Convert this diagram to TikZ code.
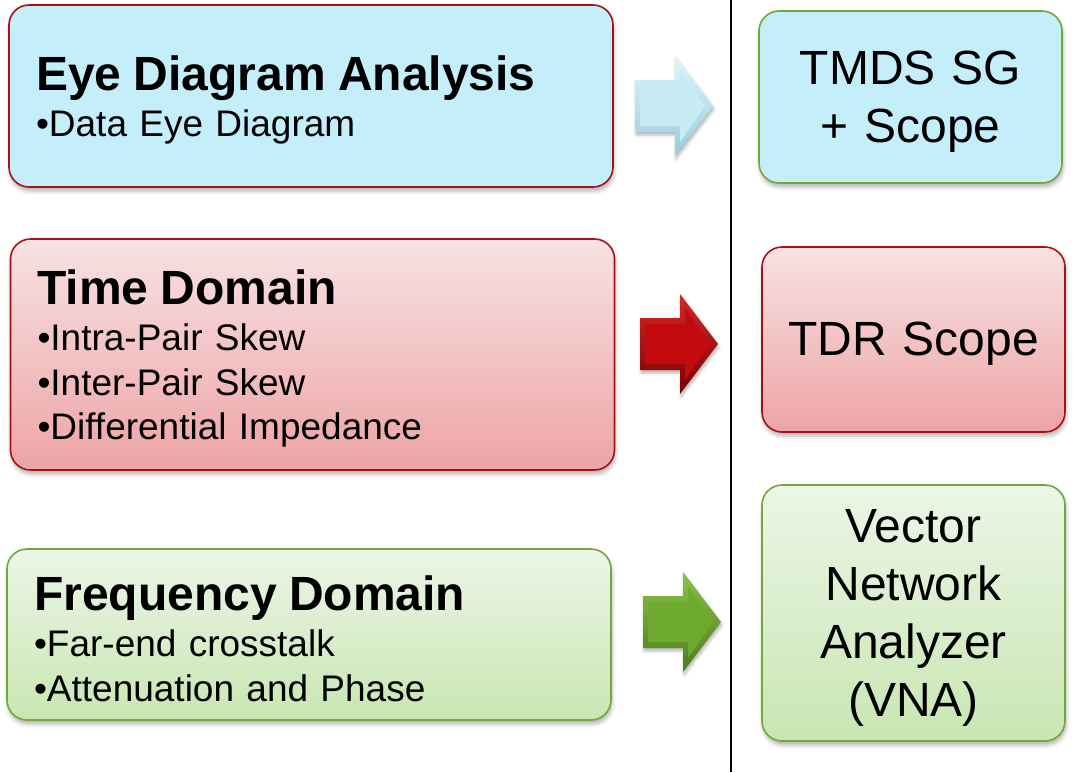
\documentclass[tikz,border=0pt]{standalone}
\usepackage{fontspec}
\setmainfont{Liberation Sans}
\usetikzlibrary{shadows.blur}

\definecolor{eyeblue}{RGB}{197,238,251}
\definecolor{pinktop}{RGB}{248,226,227}
\definecolor{pinkbot}{RGB}{237,164,165}
\definecolor{greentop}{RGB}{236,246,231}
\definecolor{greenbot}{RGB}{200,230,178}
\definecolor{redline}{RGB}{168,18,22}
\definecolor{greenline}{RGB}{116,166,58}

\newcommand\boxtitle[1]{{\fontsize{48}{45}\selectfont\bfseries #1}\\[2pt]}

\tikzset{
  roundbox/.style={rounded corners=20pt, line width=1.6pt,
    blur shadow={shadow xshift=1pt, shadow yshift=-4pt,
      shadow blur radius=4pt, shadow opacity=30}},
  testbox/.style={roundbox, inner ysep=0pt, inner xsep=27pt,
    text width=550pt, align=left, font=\fontsize{37}{44.5}\selectfont,
    execute at begin node={\rule{0pt}{43pt}}},
  toolbox/.style={roundbox, inner sep=0pt, align=center,
    text width=303pt, font=\fontsize{48}{58}\selectfont,
    execute at begin node={\rule{0pt}{42pt}}},
  bluefill/.style={fill=eyeblue},
  pinkfill/.style={top color=pinktop, bottom color=pinkbot},
  greenfill/.style={top color=greentop, bottom color=greenbot},
  pics/blockarrow/.style 2 args={code={
    \path[#1, blur shadow={shadow xshift=1pt, shadow yshift=-3pt,
        shadow blur radius=3pt, shadow opacity=30}]
      (0,-26) -- (40,-26) -- (40,-50) -- (78,0) -- (40,50) -- (40,26)
      -- (0,26) -- cycle;
    \fill[#2] (5,-20) -- (45,-20) -- (45,-36) -- (70,0) -- (45,36)
      -- (45,20) -- (5,20) -- cycle;
  }}
}

\begin{document}
\begin{tikzpicture}[x=1pt, y=-1pt]
  \useasboundingbox (0,0) rectangle (1083,772);

  % test groups
  \node (eye)  [testbox, bluefill, draw=redline, minimum height=182pt]
    at (311,96) {\boxtitle{Eye Diagram Analysis}•Data Eye Diagram};
  \node (time) [testbox, pinkfill, draw=redline, minimum height=231pt]
    at (312.5,354.5) {\boxtitle{Time Domain}•Intra-Pair Skew\\
      •Inter-Pair Skew\\•Differential Impedance};
  \node (freq) [testbox, greenfill, draw=greenline, minimum height=171pt]
    at (309,634.5) {\boxtitle{Frequency Domain}•Far-end crosstalk\\
      •Attenuation and Phase};

  % instruments
  \node (tmds) [toolbox, bluefill, draw=greenline, minimum height=172pt]
    at (910.5,97) {TMDS SG\\+ Scope};
  \node (tdr)  [toolbox, pinkfill, draw=redline, minimum height=185pt]
    at (913.5,339.5) {TDR Scope};
  \node (vna)  [toolbox, greenfill, draw=greenline, minimum height=256pt]
    at (913.5,613) {Vector\\Network\\Analyzer\\(VNA)};

  % divider
  \coordinate (divtop) at (731,0);
  \coordinate (divbot) at (731,772);
  \draw [line width=2.6pt] (divtop) -- (divbot);

  % arrows
  \pic at (635,106) {blockarrow={top color={rgb,255:red,222;green,245;blue,251},
    bottom color={rgb,255:red,150;green,205;blue,222}}{fill={rgb,255:red,200;green,236;blue,246}}};
  \pic at (640,344) {blockarrow={top color={rgb,255:red,215;green,40;blue,40},
    bottom color={rgb,255:red,120;green,0;blue,0}}{fill={rgb,255:red,195;green,10;blue,14}}};
  \pic at (643,622) {blockarrow={top color={rgb,255:red,140;green,195;blue,70},
    bottom color={rgb,255:red,75;green,125;blue,30}}{fill={rgb,255:red,110;green,170;blue,45}}};
\end{tikzpicture}
\end{document}
